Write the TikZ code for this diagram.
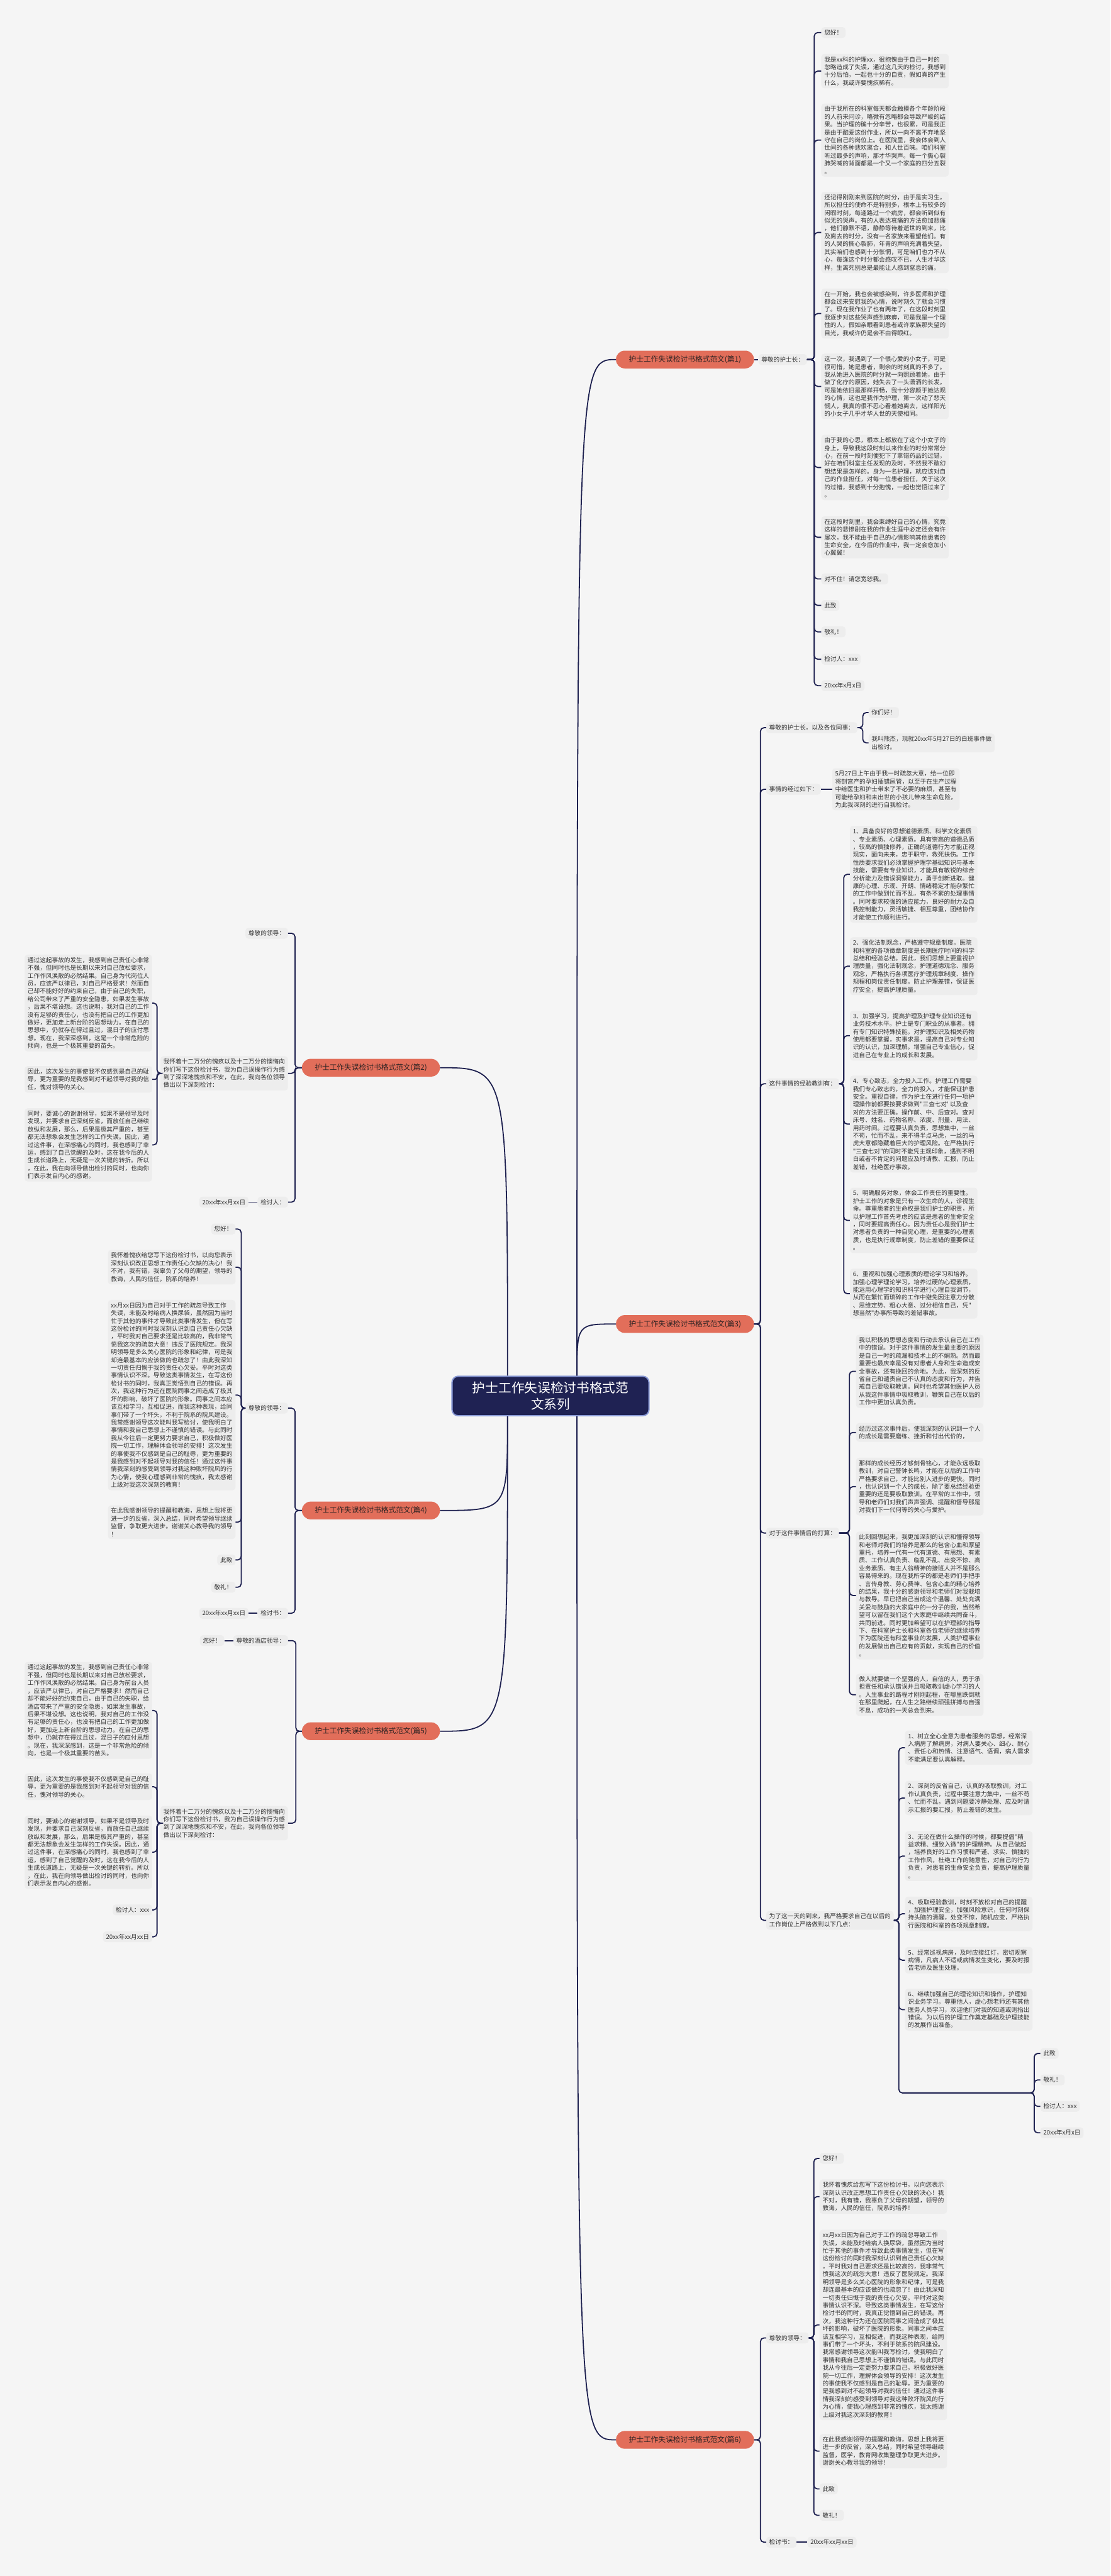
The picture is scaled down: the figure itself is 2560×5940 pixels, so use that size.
\documentclass[tikz,border=0pt]{standalone}
\usepackage{fontspec}
\newfontfamily\cjk{Noto Sans CJK SC}
\definecolor{bgc}{HTML}{F5F5F5}
\definecolor{leafc}{HTML}{EDEDED}
\definecolor{txtc}{HTML}{333333}
\definecolor{linec}{HTML}{1E2150}
\definecolor{brc}{HTML}{E26E5A}
\definecolor{brtxt}{HTML}{2B2222}
\definecolor{rootc}{HTML}{1F2253}
\definecolor{rootedge}{HTML}{8A9AD6}
\newcommand\rlink[3]{\draw[conn] (#1.east) -- (#1.east -| #2) -- (#3.west -| #2) -- (#3.west);}
\newcommand\llink[3]{\draw[conn] (#1.west) -- (#1.west -| #2) -- (#3.east -| #2) -- (#3.east);}
\newcommand\mytxtLong{xx月xx日因为自己对于工作的疏忽导致工作\\失误，未能及时给病人换尿袋，虽然因为当时\\忙于其他的事件才导致此类事情发生，但在写\\这份检讨的同时我深刻认识到自己责任心欠缺\\，平时我对自己要求还是比较高的，我非常气\\愤我这次的疏忽大意！违反了医院规定。我深\\明领导是多么关心医院的形象和纪律，可是我\\却连最基本的应该做的也疏忽了！由此我深知\\一切责任归慨于我的责任心欠妥。平时对这类\\事情认识不深。导致这类事情发生，在写这份\\检讨书的同时，我真正觉悟到自己的错误。再\\次，我这种行为还在医院同事之间造成了极其\\坏的影响，破坏了医院的形象。同事之间本应\\该互相学习，互相促进，而我这种表现，给同\\事们带了一个坏头，不利于院系的院风建设。\\我常感谢领导这次能叫我写检讨，使我明白了\\事情和我自己思想上不谨慎的错误。与此同时\\我从今往后一定更努力要求自己，积极做好医\\院一切工作，理解体会领导的安排！这次发生\\的事使我不仅感到是自己的耻辱，更为重要的\\是我感到对不起领导对我的信任！通过这件事\\情我深刻的感受到领导对我这种败坏院风的行\\为心情，使我心理感到非常的愧疚，我太感谢\\上级对我这次深刻的教育！}
\newcommand\mytxtHuai{我怀着愧疚给您写下这份检讨书，以向您表示\\深刻认识改正思想工作责任心欠缺的决心！我\\不对，我有错，我辜负了父母的期望，领导的\\教诲，人民的信任，院系的培养！}
\newcommand\mytxtShier{我怀着十二万分的愧疚以及十二万分的懊悔向\\你们写下这份检讨书，我为自己误操作行为感\\到了深深地愧疚和不安，在此，我向各位领导\\做出以下深刻检讨：}
\newcommand\mytxtYinci{因此，这次发生的事使我不仅感到是自己的耻\\辱，更为重要的是我感到对不起领导对我的信\\任，愧对领导的关心。}
\newcommand\mytxtTongshi{同时，要诚心的谢谢领导，如果不是领导及时\\发现，并要求自己深刻反省，而放任自己继续\\放纵和发展，那么，后果是极其严重的，甚至\\都无法想象会发生怎样的工作失误。因此，通\\过这件事，在深感痛心的同时，我也感到了幸\\运，感到了自己觉醒的及时，这在我今后的人\\生成长道路上，无疑是一次关键的转折。所以\\，在此，我在向领导做出检讨的同时，也向你\\们表示发自内心的感谢。}
\tikzset{
  leaf/.style={rectangle, rounded corners=7pt, fill=leafc, inner xsep=7pt, inner ysep=6pt, align=left, font=\cjk\fontsize{14}{18}\selectfont, text=txtc},
  branch/.style={rectangle, rounded corners=20pt, fill=brc, minimum width=318pt, minimum height=41pt, inner xsep=8pt, font=\cjk\fontsize{17}{20}\selectfont, text=brtxt},
  root/.style={rectangle, rounded corners=14pt, fill=rootc, draw=rootedge, line width=3pt, minimum width=454pt, minimum height=91pt, align=center, font=\cjk\fontsize{30}{38}\selectfont, text=white},
  conn/.style={draw=linec, line width=2.6pt, rounded corners=8pt},
  curv/.style={draw=linec, line width=2.6pt},
}
\begin{document}
\begin{tikzpicture}[x=1pt,y=-1pt]
\useasboundingbox (0,0) rectangle (2560,5940);
\fill[bgc] (0,0) rectangle (2560,5940);

% ---------- centre and branches ----------
\node[root] (C) at (1269,3219) {护士工作失误检讨书格式范\\文系列};
\node[branch] (B1) at (1579,829) {护士工作失误检讨书格式范文(篇1)};
\node[branch] (B3) at (1579,3053) {护士工作失误检讨书格式范文(篇3)};
\node[branch] (B6) at (1579,5626) {护士工作失误检讨书格式范文(篇6)};
\node[branch] (B2) at (855,2462) {护士工作失误检讨书格式范文(篇2)};
\node[branch] (B4) at (855,3483) {护士工作失误检讨书格式范文(篇4)};
\node[branch] (B5) at (855,3992) {护士工作失误检讨书格式范文(篇5)};

\coordinate (rx) at (1330,0);
\coordinate (lx) at (1170,0);
\draw[curv] (C.north -| rx) .. controls (rx |- B1.west) .. (B1.west);
\draw[curv] (C.north -| rx) .. controls (rx |- B3.west) .. (B3.west);
\draw[curv] (C.south -| rx) .. controls (rx |- B6.west) .. (B6.west);
\draw[curv] (C.north -| lx) .. controls (lx |- B2.east) .. (B2.east);
\draw[curv] (C.south -| lx) .. controls (lx |- B4.east) .. (B4.east);
\draw[curv] (C.south -| lx) .. controls (lx |- B5.east) .. (B5.east);

% ---------- B1 ----------
\node[leaf, anchor=west] (l11) at (1748,829) {尊敬的护士长：};
\draw[curv] (B1.east) -- (l11.west);
\coordinate (b1x) at (1877,0);
\node[leaf, anchor=west] (a1) at (1893,75) {您好！};
\node[leaf, anchor=west] (a2) at (1893,164) {我是xx科的护理xx，很抱愧由于自己一时的\\忽略造成了失误，通过这几天的检讨，我感到\\十分后怕，一起也十分的自责，假如真的产生\\什么，我或许要愧疚稀有。};
\node[leaf, anchor=west] (a3) at (1893,323) {由于我所在的科室每天都会触摸各个年龄阶段\\的人前来问诊，略微有忽略都会导致严峻的结\\果。当护理的确十分辛苦，也很累，可是我正\\是由于酷爱这份作业，所以一向不离不弃地坚\\守在自己的岗位上。在医院里，我会体会到人\\世间的各种悲欢离合，和人世百味。咱们科室\\听过最多的声响，那才华哭声。每一个撕心裂\\肺哭喊的背面都是一个又一个家庭的四分五裂\\。};
\node[leaf, anchor=west] (a4) at (1893,536) {还记得刚刚来到医院的时分，由于是实习生，\\所以担任的使命不是特别多，根本上有较多的\\闲暇时刻，每逢路过一个病房，都会听到似有\\似无的哭声。有的人表达哀痛的方法愈加悲痛\\，他们静默不语，静静等待着逝世的到来，比\\及离去的时分，没有一名家族来看望他们。有\\的人哭的撕心裂肺，年青的声响充满着失望。\\其实咱们也感到十分怅惘，可是咱们也力不从\\心，每逢这个时分都会感叹不已，人生才华这\\样，生离死别总是最能让人感到窒息的痛。};
\node[leaf, anchor=west] (a5) at (1893,723) {在一开始，我也会被感染到，许多医师和护理\\都会过来安慰我的心情，说时刻久了就会习惯\\了。现在我作业了也有两年了，在这段时刻里\\我逐步对这些哭声感到麻痹，可是我是一个理\\性的人，假如亲眼看到患者或许家族那失望的\\目光，我或许仍是会不由得眼红。};
\node[leaf, anchor=west] (a6) at (1893,891) {这一次，我遇到了一个很心爱的小女子，可是\\很可惜，她是患者，剩余的时刻真的不多了。\\我从她进入医院的时分就一向照顾着她，由于\\做了化疗的原因，她失去了一头潇洒的长发，\\可是她依旧是那样开畅，我十分容颜于她达观\\的心情，这也是我作为护理，第一次动了悲天\\悯人，我真的很不忍心看着她离去，这样阳光\\的小女子几乎才华人世的天使相同。};
\node[leaf, anchor=west] (a7) at (1893,1078) {由于我的心思，根本上都放在了这个小女子的\\身上，导致我这段时刻以来作业的时分常常分\\心，在前一段时刻便犯下了拿错药品的过错，\\好在咱们科室主任发现的及时，不然我不敢幻\\想结果是怎样的。身为一名护理，就应该对自\\己的作业担任，对每一位患者担任，关于这次\\的过错，我感到十分抱愧，一起也觉悟过来了\\。};
\node[leaf, anchor=west] (a8) at (1893,1239) {在这段时刻里，我会束缚好自己的心情，究竟\\这样的悲惨剧在我的作业生涯中必定还会有许\\屡次，我不能由于自己的心情影响其他患者的\\生命安全，在今后的作业中，我一定会愈加小\\心翼翼！};
\node[leaf, anchor=west] (a9) at (1893,1335) {对不住！请您宽恕我。};
\node[leaf, anchor=west] (a10) at (1893,1396) {此致};
\node[leaf, anchor=west] (a11) at (1893,1457) {敬礼！};
\node[leaf, anchor=west] (a12) at (1893,1520) {检讨人：xxx};
\node[leaf, anchor=west] (a13) at (1893,1581) {20xx年x月x日};
\foreach \n in {a1,a2,a3,a4,a5,a6,a7,a8,a9,a10,a11,a12,a13} {\rlink{l11}{b1x}{\n}}

% ---------- B3 ----------
\coordinate (b3x) at (1753,0);
\node[leaf, anchor=west] (l31) at (1766,1678) {尊敬的护士长，以及各位同事：};
\node[leaf, anchor=west] (l32) at (1766,1820) {事情的经过如下：};
\node[leaf, anchor=west] (l33) at (1766,2499) {这件事情的经验教训有：};
\node[leaf, anchor=west] (l34) at (1766,3535) {对于这件事情后的打算：};
\node[leaf, anchor=west] (l35) at (1766,4428) {为了这一天的到来，我严格要求自己在以后的\\工作岗位上严格做到以下几点：};
\foreach \n in {l31,l32,l33,l34,l35} {\rlink{B3}{b3x}{\n}}

\coordinate (b31x) at (1989,0);
\node[leaf, anchor=west] (c1) at (2002,1643) {你们好！};
\node[leaf, anchor=west] (c2) at (2002,1713) {我叫熊杰，现就20xx年5月27日的白班事件做\\出检讨。};
\rlink{l31}{b31x}{c1}
\rlink{l31}{b31x}{c2}

\node[leaf, anchor=west] (c3) at (1918,1820) {5月27日上午由于我一时疏忽大意，给一位即\\将剖宫产的孕妇插错尿管，以至于在生产过程\\中给医生和护士带来了不必要的麻烦，甚至有\\可能给孕妇和未出世的小孩儿带来生命危险，\\为此我深刻的进行自我检讨。};
\draw[curv] (l32.east) -- (c3.west);

\coordinate (b33x) at (1945,0);
\node[leaf, anchor=west] (i1) at (1959,2016) {1、具备良好的思想道德素质、科学文化素质\\、专业素质、心理素质。具有崇高的道德品质\\，较高的慎独修养，正确的道德行为才能正视\\现实，面向未来，忠于职守，救死扶伤。工作\\性质要求我们必须掌握护理学基础知识与基本\\技能，需要有专业知识，才能具有敏锐的综合\\分析能力及错误洞察能力，勇于创新进取。健\\康的心理、乐观、开朗、情绪稳定才能杂繁忙\\的工作中做到忙而不乱，有条不紊的处理事情\\。同时要求较强的适应能力，良好的耐力及自\\我控制能力，灵活敏捷、相互尊重，团结协作\\才能使工作顺利进行。};
\node[leaf, anchor=west] (i2) at (1959,2228) {2、强化法制观念，严格遵守规章制度。医院\\和科室的各项徵章制度是长期医疗时间的科学\\总结和经验总结。因此，我们思想上要重视护\\理质量，强化法制观念，护理道德观念、服务\\观念，严格执行各项医疗护理规章制度、操作\\规程和岗位责任制度。防止护理差错，保证医\\疗安全，提高护理质量。};
\node[leaf, anchor=west] (i3) at (1959,2388) {3、加强学习，提高护理及护理专业知识还有\\业务技术水平。护士是专门职业的从事者。拥\\有专门知识特殊技能，对护理知识及相关药物\\使用都要掌握，实事求是，提高自己对专业知\\识的认识，加深理解。增强自己专业信心，促\\进自己在专业上的成长和发展。};
\node[leaf, anchor=west] (i4) at (1959,2592) {4、专心致志，全力投入工作。护理工作需要\\我们专心致志的，全力的投入，才能保证护患\\安全。重视自律，作为护士在进行任何一项护\\理操作前都要按要求做到"三查七对' 以及查\\对的方法要正确。操作前、中、后查对。查对\\床号、姓名、药物名称、浓度、剂量、用法、\\用药时间。过程要认真负责，思想集中，一丝\\不苟，忙而不乱，来不得半点马虎，一丝的马\\虎大意都隐藏着巨大的护理风险。在严格执行\\"三查七对"的同时不能凭主观印象，遇到不明\\白或者不肯定的问题应及时请教、汇报，防止\\差错，杜绝医疗事故。};
\node[leaf, anchor=west] (i5) at (1959,2814) {5、明确服务对象，体会工作责任的重要性。\\护士工作的对象是只有一次生命的人，诊视生\\命。尊重患者的生命权是我们护士的职责，所\\以护理工作首先考虑的应该是患者的生命安全\\，同时要提高责任心。因为责任心是我们护士\\对患者负责的一种自觉心理，是重要的心理素\\质，也是执行规章制度，防止差错的重要保证\\。};
\node[leaf, anchor=west] (i6) at (1959,2983) {6、重视和加强心理素质的理论学习和培养。\\加强心理学理论学习，培养过硬的心理素质，\\能运用心理学的知识科学进行心理自我调节，\\从而在繁忙而琐碎的工作中避免因注意力分散\\、思维定势、粗心大意、过分相信自己，凭"\\想当然"办事所导致的差错事故。};
\foreach \n in {i1,i2,i3,i4,i5,i6} {\rlink{l33}{b33x}{\n}}

\coordinate (b34x) at (1958,0);
\node[leaf, anchor=west] (j1) at (1973,3162) {我以积极的思想态度和行动去承认自己在工作\\中的错误。对于这件事情的发生最主要的原因\\是自己一时的疏漏和技术上的不娴熟。然而最\\重要也最庆幸是没有对患者人身和生命造成安\\全事故，还有挽回的余地。为此，我深刻的反\\省自己和谴责自己不认真的态度和行为，并告\\戒自己要吸取教训。同时也希望其他医护人员\\从我这件事情中吸取教训，鞭策自己在以后的\\工作中更加认真负责。};
\node[leaf, anchor=west] (j2) at (1973,3303) {经历过这次事件后，使我深刻的认识到一个人\\的成长是需要磨练、挫折和付出代价的，};
\node[leaf, anchor=west] (j3) at (1973,3428) {那样的成长经历才够刻骨铭心，才能永远吸取\\教训，对自己警钟长鸣，才能在以后的工作中\\严格要求自己，才能比别人进步的更快。同时\\，也认识到一个人的成长，除了要总结经验更\\重要的还是要吸取教训。在平常的工作中，领\\导和老师们对我们声声强调、提醒和督导那是\\对我们下一代何等的关心与爱护。};
\node[leaf, anchor=west] (j4) at (1973,3679) {此刻回想起来，我更加深刻的认识和懂得领导\\和老师对我们的培养是那么的包含心血和厚望\\重托，培养一代有一代有道德、有思想、有素\\质、工作认真负责、临乱不乱、出变不惊、高\\业务素质、有主人翁精神的接班人并不是那么\\容易得来的。现在我所学的都是老师们手把手\\、言传身教、劳心费神、包含心血的精心培养\\的结果，我十分的感谢领导和老师们对我栽培\\与教导。早已把自己当成这个温馨、处处充满\\关爱与鼓励的大家庭中的一分子的我，当然希\\望可以留在我们这个大家庭中继续共同奋斗，\\共同前进。同时更加希望可以在护理部的指导\\下、在科室护士长和科室各位老师的继续培养\\下为医院还有科室事业的发展，人类护理事业\\的发展做出自己应有的贡献，实现自己的价值\\。};
\node[leaf, anchor=west] (j5) at (1973,3908) {做人就要做一个坚强的人，自信的人，勇于承\\担责任和承认错误并且吸取教训虚心学习的人\\。人生事业的路程才刚刚起程，在哪里跌倒就\\在那里爬起，在人生之路继续顽强拼搏与自强\\不息，成功的一天总会到来。};
\foreach \n in {j1,j2,j3,j4,j5} {\rlink{l34}{b34x}{\n}}

\coordinate (b35x) at (2072,0);
\node[leaf, anchor=west] (k1) at (2086,4030) {1、树立全心全意为患者服务的思想，经常深\\入病房了解病房，对病人要关心、细心、耐心\\、责任心和热情、注意语气、语调，病人需求\\不能满足要认真解释。};
\node[leaf, anchor=west] (k2) at (2086,4146) {2、深刻的反省自己，认真的吸取教训，对工\\作认真负责，过程中要注意力集中，一丝不苟\\、忙而不乱，遇到问题要冷静处理、应及时请\\示汇报的要汇报，防止差错的发生。};
\node[leaf, anchor=west] (k3) at (2086,4280) {3、无论在做什么操作的时候，都要提倡"精\\益求精、细致入微"的护理精神。从自己做起\\，培养良好的工作习惯和严谨、求实、慎独的\\工作作风，杜绝工作的随意性，对自己的行为\\负责，对患者的生命安全负责，提高护理质量\\。};
\node[leaf, anchor=west] (k4) at (2086,4413) {4、吸取经验教训，时刻不放松对自己的提醒\\，加强护理安全，加强风险意识，任何时刻保\\持头脑的清醒，处变不惊，随机应变，严格执\\行医院和科室的各项规章制度。};
\node[leaf, anchor=west] (k5) at (2086,4520) {5、经常巡视病房，及时应接红灯，密切观察\\病情，凡病人不适或病情发生变化，要及时报\\告老师及医生处理。};
\node[leaf, anchor=west] (k6) at (2086,4634) {6、继续加强自己的理论知识和操作，护理知\\识业务学习。尊重他人，虚心想老师还有其他\\医务人员学习，欢迎他们对我的知道或则指出\\错误。为以后的护理工作奠定基础及护理技能\\的发展作出准备。};
\foreach \n in {k1,k2,k3,k4,k5,k6} {\rlink{l35}{b35x}{\n}}
\coordinate (X) at (2374,4826);
\draw[conn] (l35.east) -- (l35.east -| b35x) -- (X -| b35x) -- (X);
\coordinate (b36x) at (2384,0);
\node[leaf, anchor=west] (r1) at (2398,4735) {此致};
\node[leaf, anchor=west] (r2) at (2398,4796) {敬礼！};
\node[leaf, anchor=west] (r3) at (2398,4857) {检讨人：xxx};
\node[leaf, anchor=west] (r4) at (2398,4918) {20xx年x月x日};
\foreach \n in {r1,r2,r3,r4} {\draw[conn] (X) -- (X -| b36x) -- (\n.west -| b36x) -- (\n.west);}

% ---------- B6 ----------
\coordinate (b6x) at (1753,0);
\node[leaf, anchor=west] (l61) at (1766,5391) {尊敬的领导：};
\node[leaf, anchor=west] (l62) at (1766,5862) {检讨书：};
\rlink{B6}{b6x}{l61}
\rlink{B6}{b6x}{l62}
\coordinate (b61x) at (1876,0);
\node[leaf, anchor=west] (m1) at (1889,4977) {您好！};
\node[leaf, anchor=west] (m2) at (1889,5065) {\mytxtHuai};
\node[leaf, anchor=west] (m3) at (1889,5361) {\mytxtLong};
\node[leaf, anchor=west] (m4) at (1889,5652) {在此我感谢领导的提醒和教诲，思想上我将更\\进一步的反省，深入总结，同时希望领导继续\\监督，医学，教育网收集整理争取更大进步。\\谢谢关心教导我的领导！};
\node[leaf, anchor=west] (m5) at (1889,5739) {此致};
\node[leaf, anchor=west] (m6) at (1889,5800) {敬礼！};
\foreach \n in {m1,m2,m3,m4,m5,m6} {\rlink{l61}{b61x}{\n}}
\node[leaf, anchor=west] (d62) at (1861,5862) {20xx年xx月xx日};
\draw[curv] (l62.east) -- (d62.west);

% ---------- B2 ----------
\coordinate (b2x) at (680,0);
\node[leaf, anchor=east] (l21) at (664,2152) {尊敬的领导：};
\node[leaf, anchor=east] (l22) at (664,2475) {\mytxtShier};
\node[leaf, anchor=east] (l23) at (664,2772) {检讨人：};
\foreach \n in {l21,l22,l23} {\llink{B2}{b2x}{\n}}
\node[leaf, anchor=east] (d23) at (573,2772) {20xx年xx月xx日};
\draw[curv] (l23.west) -- (d23.east);
\coordinate (b22x) at (362,0);
\node[leaf, anchor=east] (n1) at (351,2313) {通过这起事故的发生，我感到自己责任心非常\\不强，但同时也是长期以来对自己放松要求，\\工作作风涣散的必然结果。自己身为代岗位人\\员，应该严以律已，对自己严格要求！然而自\\己却不能好好的约束自己，由于自己的失职，\\给公司带来了严重的安全隐患，如果发生事故\\，后果不堪设想。这也说明，我对自己的工作\\没有足够的责任心，也没有把自己的工作更加\\做好，更加走上新台阶的思想动力。在自己的\\思想中，仍就存在得过且过，混日子的应付思\\想。现在，我深深感到，这是一个非常危险的\\倾向，也是一个极其重要的苗头。};
\node[leaf, anchor=east] (n2) at (351,2489) {\mytxtYinci};
\node[leaf, anchor=east] (n3) at (351,2640) {\mytxtTongshi};
\llink{l22}{b22x}{n1}
\draw[conn, rounded corners=5pt] (l22.west) -- (l22.west -| b22x) -- (n2.east -| b22x) -- (n2.east);
\llink{l22}{b22x}{n3}

% ---------- B4 ----------
\coordinate (b4x) at (680,0);
\node[leaf, anchor=east] (l41) at (664,3247) {尊敬的领导：};
\node[leaf, anchor=east] (l42) at (664,3720) {检讨书：};
\llink{B4}{b4x}{l41}
\llink{B4}{b4x}{l42}
\node[leaf, anchor=east] (d42) at (573,3720) {20xx年xx月xx日};
\draw[curv] (l42.west) -- (d42.east);
\coordinate (b41x) at (556,0);
\node[leaf, anchor=east] (p1) at (543,2834) {您好！};
\node[leaf, anchor=east] (p2) at (543,2922) {\mytxtHuai};
\node[leaf, anchor=east] (p3) at (543,3217) {\mytxtLong};
\node[leaf, anchor=east] (p4) at (543,3510) {在此我感谢领导的提醒和教诲，思想上我将更\\进一步的反省，深入总结，同时希望领导继续\\监督，争取更大进步。谢谢关心教导我的领导\\！};
\node[leaf, anchor=east] (p5) at (543,3597) {此致};
\node[leaf, anchor=east] (p6) at (543,3660) {敬礼！};
\foreach \n in {p1,p2,p3,p4,p5,p6} {\llink{l41}{b41x}{\n}}

% ---------- B5 ----------
\coordinate (b5x) at (682,0);
\node[leaf, anchor=east] (l51) at (664,3783) {尊敬的酒店领导：};
\node[leaf, anchor=east] (l52) at (664,4204) {\mytxtShier};
\llink{B5}{b5x}{l51}
\llink{B5}{b5x}{l52}
\node[leaf, anchor=east] (d51) at (517,3783) {您好！};
\draw[curv] (l51.west) -- (d51.east);
\coordinate (b52x) at (362,0);
\node[leaf, anchor=east] (q1) at (351,3944) {通过这起事故的发生，我感到自己责任心非常\\不强，但同时也是长期以来对自己放松要求，\\工作作风涣散的必然结果。自己身为前台人员\\，应该严以律已，对自己严格要求！然而自己\\却不能好好的约束自己，由于自己的失职，给\\酒店带来了严重的安全隐患，如果发生事故，\\后果不堪设想。这也说明，我对自己的工作没\\有足够的责任心，也没有把自己的工作更加做\\好，更加走上新台阶的思想动力。在自己的思\\想中，仍就存在得过且过，混日子的应付思想\\。现在，我深深感到，这是一个非常危险的倾\\向，也是一个极其重要的苗头。};
\node[leaf, anchor=east] (q2) at (351,4120) {\mytxtYinci};
\node[leaf, anchor=east] (q3) at (351,4271) {\mytxtTongshi};
\node[leaf, anchor=east] (q4) at (351,4404) {检讨人：xxx};
\node[leaf, anchor=east] (q5) at (351,4466) {20xx年xx月xx日};
\foreach \n in {q1,q2,q3,q4,q5} {\llink{l52}{b52x}{\n}}
\end{tikzpicture}
\end{document}
